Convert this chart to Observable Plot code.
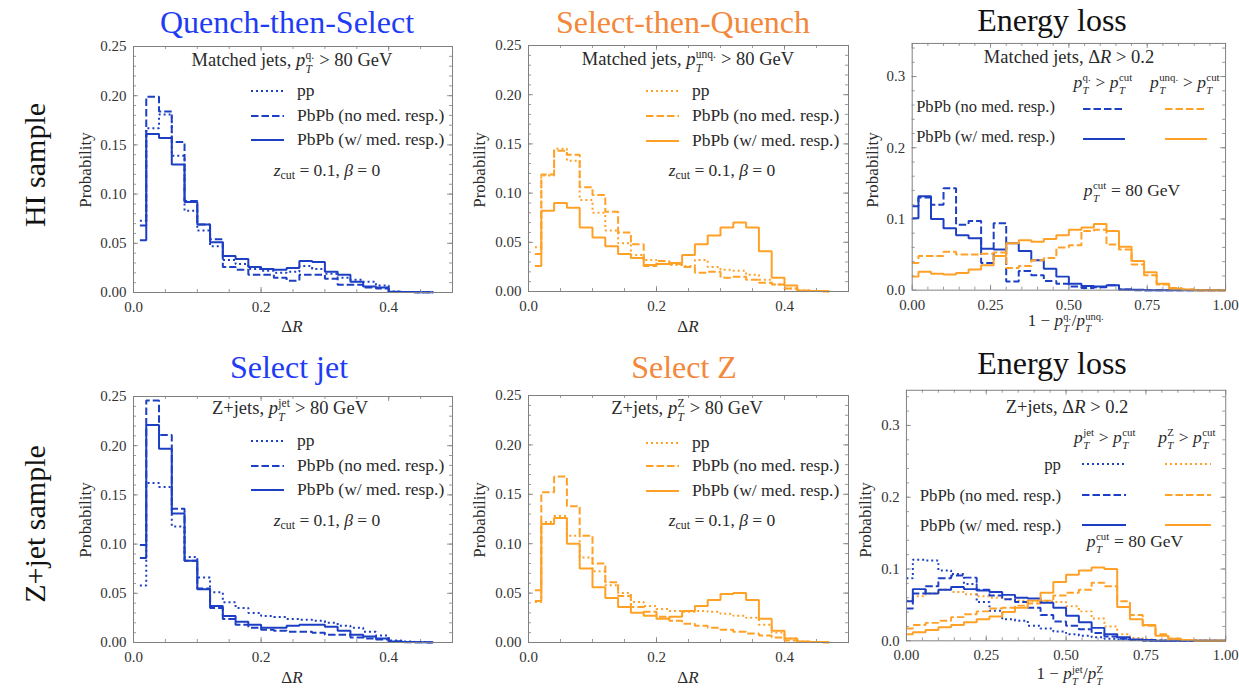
<!DOCTYPE html>
<html><head><meta charset="utf-8">
<script src="https://cdn.jsdelivr.net/npm/d3@7"></script>
<script src="https://cdn.jsdelivr.net/npm/@observablehq/plot@0.6"></script>
<style>
body{margin:0;background:#fff}
#root{position:relative;width:1239px;height:690px;overflow:hidden;font-family:"Liberation Serif","Times New Roman",serif;color:#222;background:#fff}
.abs{position:absolute;white-space:nowrap;line-height:1}
.ss{display:inline-flex;flex-direction:column;align-items:flex-start;font-size:0.62em;line-height:1.18;vertical-align:0.6em;margin-left:0.04em;margin-right:0.04em}
.ss>span{display:block}
.ss .b{font-style:italic}
.sb{font-size:0.68em;vertical-align:-0.3em}
</style></head><body><div id="root"></div>
<script>
// ---------------- data ----------------
const dr = [0.01,0.03,0.05,0.07,0.09,0.11,0.13,0.15,0.17,0.19,0.21,0.23,0.25,0.27,0.29,0.31,0.33,0.35,0.37,0.39,0.41,0.43,0.45,0.47];
const eloss = [0,0.04,0.08,0.12,0.16,0.20,0.24,0.28,0.32,0.36,0.40,0.44,0.48,0.52,0.56,0.60,0.64,0.68,0.72,0.76,0.80,0.84,0.88,0.92,0.96,1.00];

// Quench-then-Select (HI sample, matched jets, pT^q > 80)
const qtsPP     = [0.073,0.167,0.181,0.139,0.083,0.063,0.047,0.033,0.029,0.024,0.022,0.020,0.021,0.027,0.024,0.019,0.015,0.013,0.011,0.007,0.001,0.0005,0.0003,0.0002];
const qtsNoResp = [0.068,0.199,0.184,0.153,0.093,0.069,0.054,0.026,0.023,0.018,0.018,0.015,0.012,0.018,0.018,0.014,0.008,0.008,0.005,0.004,0.0005,0.0004,0.0003,0.0002];
const qtsResp   = [0.053,0.161,0.157,0.130,0.092,0.069,0.051,0.037,0.034,0.026,0.024,0.023,0.025,0.032,0.031,0.021,0.018,0.011,0.006,0.005,0.0007,0.0005,0.0003,0.0002];
// Select-then-Quench (HI sample, matched jets, pT^unq > 80)
const stqPP     = [0.045,0.118,0.145,0.133,0.093,0.080,0.062,0.049,0.037,0.032,0.028,0.027,0.026,0.032,0.025,0.022,0.021,0.017,0.012,0.007,0.003,0.001,0.0005,0.0003];
const stqNoResp = [0.038,0.119,0.143,0.139,0.106,0.098,0.081,0.060,0.048,0.026,0.031,0.028,0.025,0.019,0.020,0.014,0.015,0.012,0.009,0.007,0.003,0.0005,0.0004,0.0003];
const stqResp   = [0.026,0.082,0.090,0.085,0.065,0.055,0.046,0.038,0.034,0.027,0.028,0.029,0.037,0.048,0.057,0.065,0.070,0.065,0.041,0.014,0.006,0.001,0.0005,0.0003];
// Energy loss, HI sample (Delta R > 0.2)
const hiQNoResp = [0.118,0.130,0.120,0.143,0.092,0.097,0.038,0.094,0.012,0.027,0.021,0.013,0.009,0.005,0.003,0.004,0.007,0.001,0,0,0,0,0,0,0,0];
const hiQResp   = [0.101,0.132,0.100,0.087,0.077,0.073,0.058,0.057,0.066,0.055,0.042,0.030,0.019,0.009,0.006,0.005,0.007,0.001,0.0005,0,0,0,0,0,0,0];
const hiUNoResp = [0.038,0.048,0.048,0.054,0.050,0.050,0.051,0.053,0.031,0.034,0.042,0.045,0.060,0.063,0.083,0.085,0.064,0.057,0.036,0.021,0.008,0.003,0.001,0,0,0];
const hiUResp   = [0.019,0.026,0.023,0.022,0.024,0.029,0.035,0.048,0.066,0.070,0.068,0.072,0.077,0.085,0.088,0.093,0.083,0.061,0.041,0.025,0.009,0.002,0.001,0,0,0];
// Select jet (Z+jet sample, pT^jet > 80)
const sjPP      = [0.058,0.162,0.158,0.118,0.087,0.066,0.051,0.041,0.035,0.030,0.027,0.026,0.024,0.023,0.022,0.020,0.017,0.015,0.011,0.007,0.002,0.001,0.0005,0.0003];
const sjNoResp  = [0.099,0.246,0.211,0.136,0.083,0.055,0.035,0.024,0.018,0.015,0.013,0.012,0.011,0.011,0.010,0.008,0.008,0.005,0.004,0.003,0.001,0.0003,0.0002,0.0001];
const sjResp    = [0.086,0.221,0.197,0.131,0.083,0.054,0.037,0.027,0.021,0.018,0.015,0.015,0.017,0.018,0.018,0.016,0.012,0.008,0.006,0.004,0.001,0.0005,0.0003,0.0002];
// Select Z (Z+jet sample, pT^Z > 80)
const szPP      = [0.041,0.122,0.128,0.108,0.086,0.072,0.058,0.050,0.041,0.037,0.034,0.032,0.031,0.032,0.031,0.029,0.027,0.025,0.018,0.010,0.004,0.001,0.0005,0.0003];
const szNoResp  = [0.053,0.152,0.168,0.138,0.108,0.080,0.061,0.047,0.036,0.031,0.026,0.022,0.019,0.017,0.015,0.013,0.011,0.009,0.007,0.005,0.002,0.0005,0.0004,0.0003];
const szResp    = [0.042,0.120,0.126,0.100,0.075,0.056,0.045,0.036,0.030,0.027,0.024,0.026,0.032,0.037,0.043,0.049,0.050,0.043,0.024,0.012,0.004,0.001,0.0005,0.0003];
// Energy loss, Z+jet sample (Delta R > 0.2)
const zjJetPP     = [0.087,0.113,0.112,0.098,0.093,0.079,0.054,0.042,0.030,0.028,0.021,0.017,0.013,0.009,0.007,0.005,0.003,0.002,0.001,0,0,0,0,0,0,0];
const zjJetNoResp = [0.045,0.066,0.076,0.087,0.091,0.088,0.071,0.063,0.058,0.054,0.046,0.036,0.027,0.021,0.016,0.011,0.006,0.003,0.001,0,0,0,0,0,0,0];
const zjJetResp   = [0.055,0.072,0.066,0.071,0.075,0.072,0.070,0.068,0.064,0.060,0.059,0.053,0.046,0.035,0.026,0.018,0.009,0.005,0.002,0.001,0,0,0,0,0,0];
const zjZPP       = [0.056,0.062,0.066,0.071,0.068,0.065,0.062,0.060,0.058,0.056,0.055,0.055,0.054,0.048,0.041,0.031,0.020,0.009,0.004,0.002,0.001,0,0,0,0,0];
const zjZNoResp   = [0.017,0.022,0.025,0.028,0.033,0.037,0.041,0.045,0.046,0.049,0.052,0.056,0.063,0.067,0.071,0.081,0.076,0.055,0.036,0.021,0.009,0.003,0.001,0,0,0];
const zjZResp     = [0.009,0.012,0.015,0.019,0.022,0.026,0.030,0.034,0.040,0.046,0.056,0.067,0.082,0.092,0.098,0.102,0.100,0.047,0.030,0.022,0.007,0.003,0.001,0,0,0];

// tick values
const drTicks = [0, 0.2, 0.4];
const drMinor = [0.05,0.1,0.15,0.2,0.25,0.3,0.35,0.4,0.45];
const probTicks = [0, 0.05, 0.10, 0.15, 0.20, 0.25];
const probMinor = d3.range(1, 25).map(i => i / 100);
const elTicks = [0, 0.25, 0.5, 0.75, 1];
const elMinor = d3.range(1, 20).map(i => i / 20);
const elProbTicks = [0, 0.1, 0.2, 0.3];
const elProbMinor = d3.range(1, 18).map(i => i / 50);

// ---------------- styles ----------------
const BLUE = "#1c3fc4", ORANGE = "#ffa126";
const DASH = {solid: null, dashed: "7.5,3", dotted: "2,3"};
const root = document.getElementById("root");

function panel(box, cfg) {
  const [x0, y0, x1, y1] = box;
  const mL = 60, mR = 14, mT = 12, mB = 34;
  const W = x1 - x0, H = y1 - y0;
  const tk = "#808080";
  const lines = cfg.series.map(s => Plot.line(cfg.xs.map((x, i) => ({x, y: s.v[i]})), {
    x: "x", y: "y", curve: "step", stroke: s.c, strokeWidth: 2,
    strokeDasharray: DASH[s.d], strokeLinecap: "butt", strokeLinejoin: "miter"
  }));
  const svg = Plot.plot({
    width: W + mL + mR, height: H + mT + mB,
    marginLeft: mL, marginRight: mR, marginTop: mT, marginBottom: mB,
    x: {domain: cfg.xdom, label: null},
    y: {domain: cfg.ydom, label: null},
    style: {fontFamily: '"Liberation Serif", serif', fontSize: "15px", color: "#333", background: "none", overflow: "visible"},
    marks: [
      Plot.ruleX(cfg.xminor, {stroke: tk, strokeWidth: 0.8, insetTop: H - 3}),
      Plot.ruleX(cfg.xminor, {stroke: tk, strokeWidth: 0.8, insetBottom: H - 3}),
      Plot.ruleX(cfg.xticks, {stroke: tk, strokeWidth: 0.8, insetTop: H - 5}),
      Plot.ruleX(cfg.xticks, {stroke: tk, strokeWidth: 0.8, insetBottom: H - 5}),
      Plot.ruleY(cfg.yminor, {stroke: tk, strokeWidth: 0.8, insetRight: W - 3}),
      Plot.ruleY(cfg.yminor, {stroke: tk, strokeWidth: 0.8, insetLeft: W - 3}),
      Plot.ruleY(cfg.yticks, {stroke: tk, strokeWidth: 0.8, insetRight: W - 5}),
      Plot.ruleY(cfg.yticks, {stroke: tk, strokeWidth: 0.8, insetLeft: W - 5}),
      Plot.axisX(cfg.xticks, {tickSize: 0, tickPadding: 9, tickFormat: d3.format(cfg.xfmt), label: null}),
      Plot.axisY(cfg.yticks, {tickSize: 0, tickPadding: 7, tickFormat: d3.format(cfg.yfmt), label: null}),
      ...lines,
      Plot.frame({stroke: tk, strokeWidth: 1})
    ]
  });
  const wrap = document.createElement("div");
  wrap.style.position = "absolute";
  wrap.style.left = (x0 - mL) + "px";
  wrap.style.top = (y0 - mT) + "px";
  wrap.appendChild(svg);
  root.appendChild(wrap);
}

const drCfg = (series) => ({xs: dr, xdom: [0, 0.5], ydom: [0, 0.25], xticks: drTicks, xminor: drMinor,
  yticks: probTicks, yminor: probMinor, xfmt: ".1f", yfmt: ".2f", series});

panel([133, 46, 452, 292], drCfg([
  {v: qtsPP, c: BLUE, d: "dotted"}, {v: qtsNoResp, c: BLUE, d: "dashed"}, {v: qtsResp, c: BLUE, d: "solid"}]));
panel([528, 45, 848, 291], drCfg([
  {v: stqPP, c: ORANGE, d: "dotted"}, {v: stqNoResp, c: ORANGE, d: "dashed"}, {v: stqResp, c: ORANGE, d: "solid"}]));
panel([912, 43, 1227, 291], {xs: eloss, xdom: [0, 1], ydom: [0, 0.3465], xticks: elTicks, xminor: elMinor,
  yticks: elProbTicks, yminor: elProbMinor, xfmt: ".2f", yfmt: ".1f", series: [
  {v: hiQResp, c: BLUE, d: "solid"}, {v: hiQNoResp, c: BLUE, d: "dashed"},
  {v: hiUNoResp, c: ORANGE, d: "dashed"}, {v: hiUResp, c: ORANGE, d: "solid"}]});
panel([133, 396, 452, 642], drCfg([
  {v: sjPP, c: BLUE, d: "dotted"}, {v: sjNoResp, c: BLUE, d: "dashed"}, {v: sjResp, c: BLUE, d: "solid"}]));
panel([528, 395, 848, 642], drCfg([
  {v: szPP, c: ORANGE, d: "dotted"}, {v: szNoResp, c: ORANGE, d: "dashed"}, {v: szResp, c: ORANGE, d: "solid"}]));
panel([907, 390, 1232, 645], {xs: eloss, xdom: [0, 1], ydom: [0, 0.349], xticks: elTicks, xminor: elMinor,
  yticks: elProbTicks, yminor: elProbMinor, xfmt: ".2f", yfmt: ".1f", series: [
  {v: zjJetPP, c: BLUE, d: "dotted"}, {v: zjZPP, c: ORANGE, d: "dotted"},
  {v: zjJetNoResp, c: BLUE, d: "dashed"}, {v: zjZNoResp, c: ORANGE, d: "dashed"},
  {v: zjJetResp, c: BLUE, d: "solid"}, {v: zjZResp, c: ORANGE, d: "solid"}]});

// ---------------- text ----------------
function txt(html, x, y, {size = 17.5, anchor = "middle", color = "#2a2a2a", rotate = 0} = {}) {
  const d = document.createElement("div");
  d.className = "abs";
  d.innerHTML = html;
  d.style.left = x + "px"; d.style.top = y + "px";
  d.style.fontSize = size + "px"; d.style.color = color;
  const tx = anchor === "middle" ? "-50%" : anchor === "end" ? "-100%" : "0";
  d.style.transform = `translate(${tx},-50%)` + (rotate ? ` rotate(${rotate}deg)` : "");
  root.appendChild(d);
}
const pT = (sup) => `<i>p</i><span class="ss"><span>${sup}</span><span class="b">T</span></span>`;
const zcut = `<i>z</i><span class="sb">cut</span> = 0.1, <i>β</i> = 0`;

// titles
txt("Quench-then-Select", 287, 22, {size: 32, color: "#1f3cf5"});
txt("Select-then-Quench", 683, 22, {size: 32, color: "#f3873a"});
txt("Energy loss", 1052, 20, {size: 32, color: "#111"});
txt("Select jet", 289, 367, {size: 32, color: "#1f3cf5"});
txt("Select Z", 684, 367, {size: 32, color: "#f3873a"});
txt("Energy loss", 1052, 363, {size: 32, color: "#111"});
txt("HI sample", 35, 165, {size: 30, color: "#111", rotate: -90});
txt("Z+jet sample", 35, 524, {size: 30, color: "#111", rotate: -90});

// axis labels
for (const [x, y] of [[85, 170], [479, 170], [872, 170], [85, 520], [479, 520], [865, 520]])
  txt("Probability", x, y, {size: 17, rotate: -90});
for (const [x, y] of [[292, 326], [688, 326], [292, 677], [688, 677]])
  txt("Δ<i>R</i>", x, y, {size: 17});
txt(`1 − ${pT("q.")}/${pT("unq.")}`, 1066, 323, {size: 17});
txt(`1 − ${pT("jet")}/${pT("Z")}`, 1070, 676, {size: 17});

// in-panel annotations
const HS = 18.5;
txt(`Matched jets, ${pT("q.")} &gt; 80 GeV`, 292, 63, {size: HS});
txt(`Matched jets, ${pT("unq.")} &gt; 80 GeV`, 688, 62, {size: HS});
txt(`Matched jets, Δ<i>R</i> &gt; 0.2`, 1069, 57, {size: HS});
txt(`Z+jets, ${pT("jet")} &gt; 80 GeV`, 290, 411, {size: HS});
txt(`Z+jets, ${pT("Z")} &gt; 80 GeV`, 687, 411, {size: HS});
txt(`Z+jets, Δ<i>R</i> &gt; 0.2`, 1067, 407, {size: HS});
txt(zcut, 327, 172); txt(zcut, 722, 172); txt(zcut, 327, 522); txt(zcut, 722, 522);
txt(`${pT("cut")} = 80 GeV`, 1132, 192);
txt(`${pT("cut")} = 80 GeV`, 1135, 543);
txt(`${pT("q.")} &gt; ${pT("cut")}`, 1103, 84);
txt(`${pT("unq.")} &gt; ${pT("cut")}`, 1185, 84);
txt(`${pT("jet")} &gt; ${pT("cut")}`, 1105, 439);
txt(`${pT("Z")} &gt; ${pT("cut")}`, 1187, 439);

// legends
const legSvg = d3.create("svg").attr("width", 1239).attr("height", 690)
  .style("position", "absolute").style("left", 0).style("top", 0).style("pointer-events", "none");
function sample(xa, xb, y, c, d) {
  legSvg.append("line").attr("x1", xa).attr("x2", xb).attr("y1", y).attr("y2", y)
    .attr("stroke", c).attr("stroke-width", 2).attr("stroke-dasharray", DASH[d]);
}
const entries = ["pp", "PbPb (no med. resp.)", "PbPb (w/ med. resp.)"];
const styles = ["dotted", "dashed", "solid"];
function legend3(xa, xb, xt, ys, c) {
  ys.forEach((y, i) => { sample(xa, xb, y, c, styles[i]); txt(entries[i], xt, y, {anchor: "start"}); });
}
legend3(251, 284, 297, [91, 116, 140], BLUE);
legend3(646, 679, 692, [91, 116, 141], ORANGE);
legend3(251, 284, 297, [441, 466, 490], BLUE);
legend3(646, 679, 692, [443, 466, 491], ORANGE);
// energy loss legends
[[107, 1], [137, 2]].forEach(([y, i]) => {
  txt(entries[i], 1055, y, {anchor: "end", size: 16.5});
  sample(1083, 1125, y + 2, BLUE, styles[i]);
  sample(1165, 1207, y + 2, ORANGE, styles[i]);
});
[[465, 0], [496, 1], [526, 2]].forEach(([y, i]) => {
  txt(entries[i], 1061, y, {anchor: "end", size: 16.8});
  sample(1082, 1126, y - 1, BLUE, styles[i]);
  sample(1165, 1211, y - 1, ORANGE, styles[i]);
});
root.appendChild(legSvg.node());
</script></body></html>
